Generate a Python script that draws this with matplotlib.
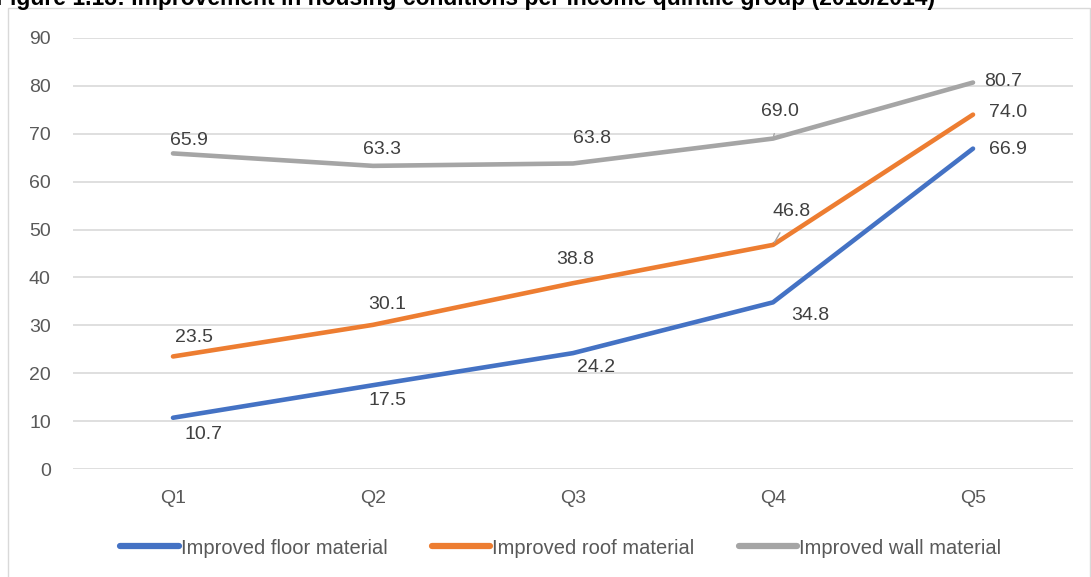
import matplotlib.pyplot as plt
from matplotlib.patches import Rectangle

quintiles = ["Q1", "Q2", "Q3", "Q4", "Q5"]
floor = [10.7, 17.5, 24.2, 34.8, 66.9]
roof = [23.5, 30.1, 38.8, 46.8, 74.0]
wall = [65.9, 63.3, 63.8, 69.0, 80.7]
yticks = [0, 10, 20, 30, 40, 50, 60, 70, 80, 90]

plt.rcParams['font.family'] = ['Liberation Sans', 'DejaVu Sans']

W, H = 1091, 577
fig = plt.figure(figsize=(W / 100, H / 100), dpi=100)
# axes box in pixels: x 73..1073, y(0)=469, y(90)=38
ax = fig.add_axes([73 / W, (H - 469) / H, 1000 / W, (469 - 38) / H])

x = list(range(len(quintiles)))
ax.plot(x, floor, color='#4472C4', lw=3.3, solid_capstyle='round', label='Improved floor material')
ax.plot(x, roof, color='#ED7D31', lw=3.3, solid_capstyle='round', label='Improved roof material')
ax.plot(x, wall, color='#A5A5A5', lw=3.3, solid_capstyle='round', label='Improved wall material')

ax.set_xlim(-0.5, 4.5)
ax.set_ylim(0, 90)
ax.set_yticks(yticks)
ax.set_xticks(x)
ax.set_xticklabels(quintiles)
ax.grid(axis='y', color='#D9D9D9', lw=1.2)
ax.set_axisbelow(True)
for s in ax.spines.values():
    s.set_visible(False)
ax.tick_params(length=0, labelsize=14, colors='#595959')
ax.tick_params(axis='x', pad=15)
ax.tick_params(axis='y', pad=16)

# label offsets in pixels (dx, dy) relative to each point
floor_off = [(30, -17), (14, -15), (23, -14), (37, -13), (35, -1)]
roof_off = [(21, 19), (14, 20), (2, 24), (19, 33), (35, 2)]
wall_off = [(16, 13), (9, 16), (19, 25), (7, 27), (30, 1)]

def put_labels(vals, offs, leaders=()):
    for i, (v, (dx, dy)) in enumerate(zip(vals, offs)):
        kw = {}
        if i in leaders:
            kw['arrowprops'] = dict(arrowstyle='-', color='#A5A5A5', lw=1, shrinkA=8, shrinkB=2)
        ax.annotate(f"{v:.1f}", (i, v), xytext=(dx, dy), textcoords='offset pixels',
                    ha='center', va='center', fontsize=14, color='#404040',
                    annotation_clip=False, **kw)

put_labels(floor, floor_off)
put_labels(roof, roof_off, leaders=(3,))
put_labels(wall, wall_off, leaders=(3,))

leg = fig.legend(loc='center', bbox_to_anchor=(0.514, (H - 548) / H), ncol=3, frameon=False,
                 fontsize=14.5, handlelength=2.9, handletextpad=0.1, columnspacing=2.2)
for t in leg.get_texts():
    t.set_color('#595959')
for h in leg.legend_handles:
    h.set_linewidth(4.5)
    h.set_solid_capstyle('round')

# chart area border
fig.patches.append(Rectangle((8 / W, -0.05), (W - 9) / W, (H - 8) / H + 0.05,
                             transform=fig.transFigure, fill=False, ec='#D9D9D9', lw=1))

fig.text(-0.004, 1 - 5 / H,
         "Figure 1.13: Improvement in housing conditions per income quintile group (2013/2014)",
         ha='left', va='baseline', fontsize=16.5, fontweight='bold', color='black')

fig.savefig('out.png', dpi=100)
